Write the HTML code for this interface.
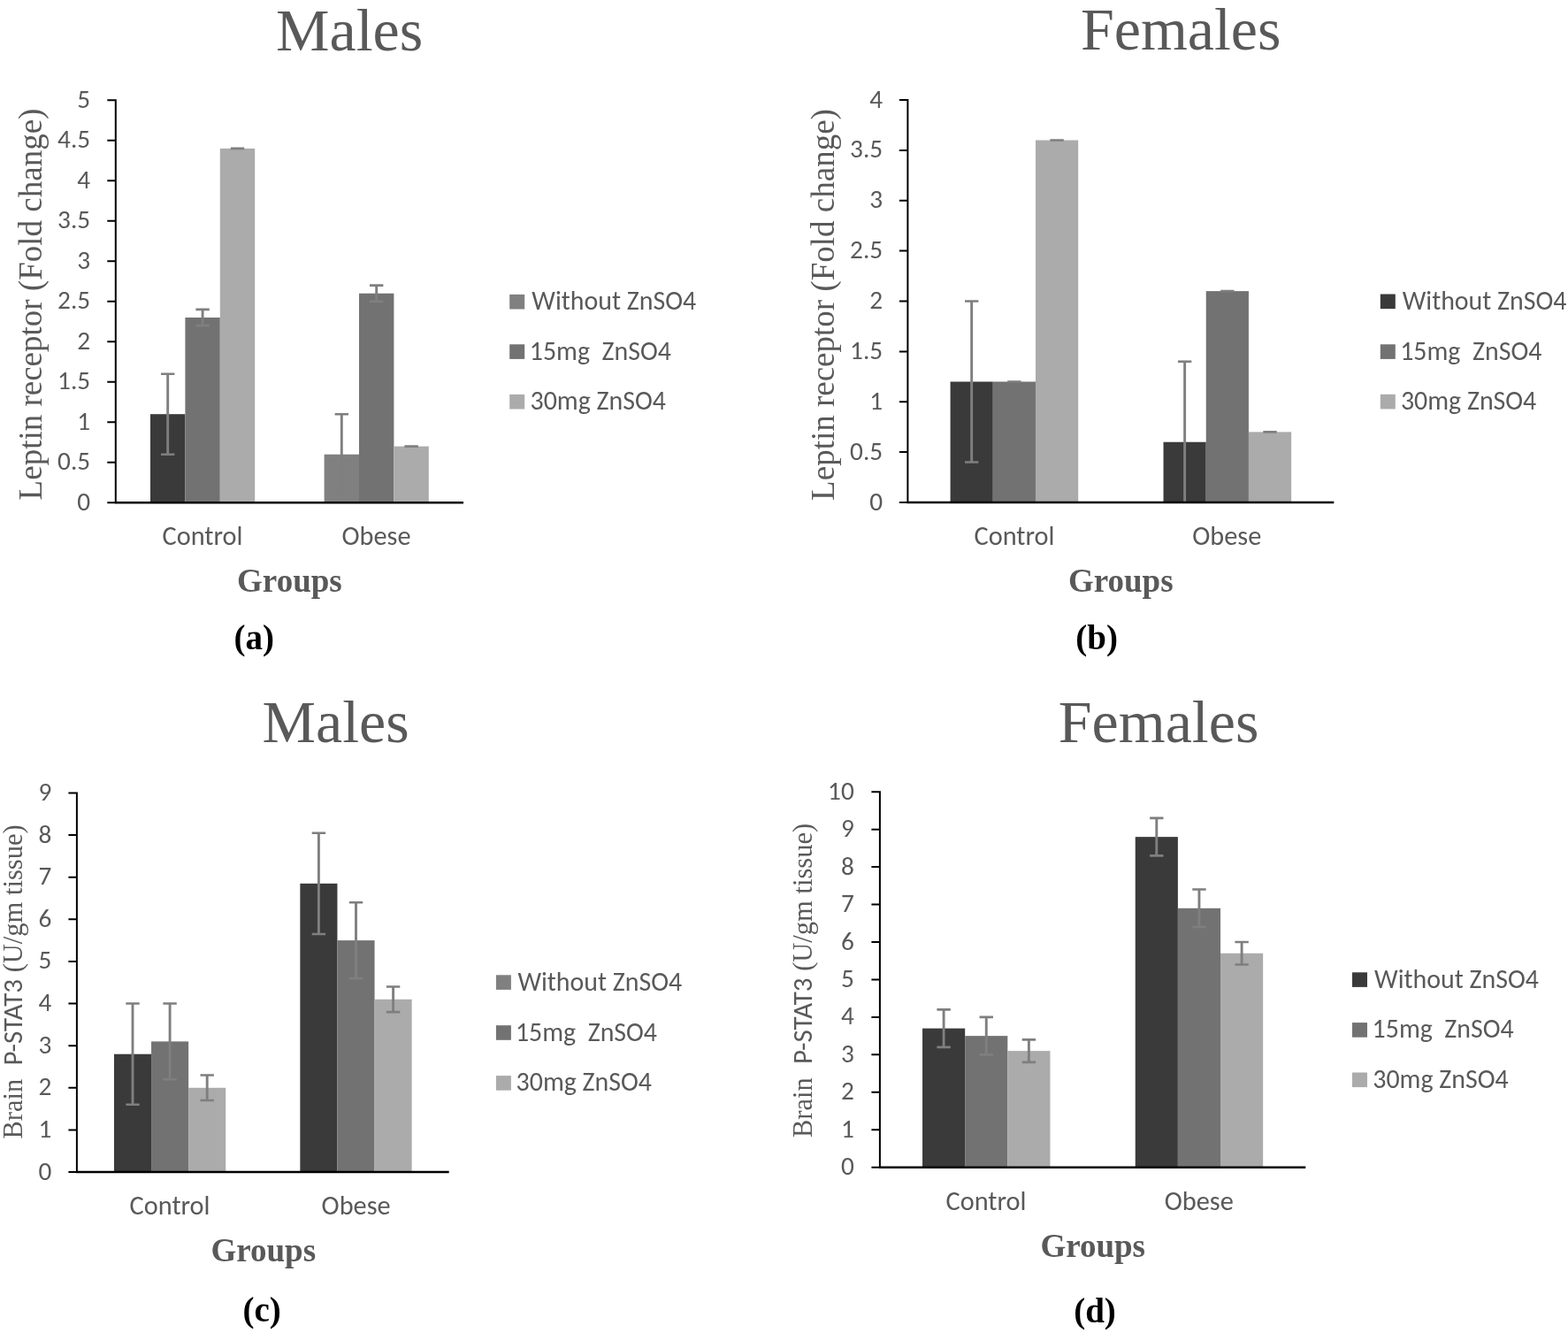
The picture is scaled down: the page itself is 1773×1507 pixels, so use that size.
<!DOCTYPE html>
<html><head><meta charset="utf-8"><title>Leptin receptor and P-STAT3 charts</title>
<style>
html,body{margin:0;padding:0;background:#fff;width:1773px;height:1507px;overflow:hidden}
svg{display:block}
.ti{font-family:"Liberation Serif", serif;font-size:68px;fill:#595959;text-anchor:middle}
.tk{font-family:Carlito, "Liberation Sans", sans-serif;font-size-adjust:0.4775;font-size:29.3px;fill:#595959;text-anchor:end}
.ct{font-family:Carlito, "Liberation Sans", sans-serif;font-size-adjust:0.4775;font-size:30.3px;fill:#595959;text-anchor:middle}
.lg{font-family:Carlito, "Liberation Sans", sans-serif;font-size-adjust:0.4775;font-size:29.9px;fill:#595959}
.gr{font-family:"Liberation Serif", serif;font-weight:bold;font-size:37px;fill:#595959;text-anchor:middle}
.pl{font-family:"Liberation Serif", serif;font-weight:bold;font-size:39px;fill:#000;text-anchor:middle}
.yl{font-family:"Liberation Serif", serif;font-size:37px;fill:#595959;text-anchor:middle}
.yl2{font-family:"Liberation Serif", serif;font-size:30.5px;fill:#595959;text-anchor:middle}
.ss{font-family:Carlito, "Liberation Sans", sans-serif;font-size-adjust:0.4775;font-size:31px}
.ax{fill:none;stroke:#000;stroke-width:2}
.ax2{fill:none;stroke:#000;stroke-width:2.6}
.eb{fill:none;stroke:#7f7f7f;stroke-width:2.6}
.ebv{fill:none;stroke:#7f7f7f;stroke-width:2.9}
</style></head><body>
<svg width="1773" height="1507" viewBox="0 0 1773 1507">
<rect width="1773" height="1507" fill="#fff"/>
<g id="pa"><text class="ti" x="395.1" y="56.7">Males</text>
<rect x="170" y="468.2" width="39.4" height="100.1" fill="#3a3a3a"/>
<rect x="209.4" y="359" width="39.4" height="209.3" fill="#727272"/>
<rect x="248.8" y="167.9" width="39.4" height="400.4" fill="#ababab"/>
<rect x="366.6" y="513.7" width="39.4" height="54.6" fill="#808080"/>
<rect x="406" y="331.7" width="39.4" height="236.6" fill="#727272"/>
<rect x="445.4" y="504.6" width="39.4" height="63.7" fill="#ababab"/>
<path class="ebv" d="M189.7 422.7V513.7"/><path class="eb" d="M182 422.7H197.4M182 513.7H197.4"/>
<path class="ebv" d="M229.1 349.9V368.1"/><path class="eb" d="M221.4 349.9H236.8M221.4 368.1H236.8"/>
<path class="ebv" d="M268.5 167.9V167.9"/><path class="eb" d="M260.8 167.9H276.2M260.8 167.9H276.2"/>
<path class="ebv" d="M386.3 468.2V559.2"/><path class="eb" d="M378.6 468.2H394M378.6 559.2H394"/>
<path class="ebv" d="M425.7 322.6V340.8"/><path class="eb" d="M418 322.6H433.4M418 340.8H433.4"/>
<path class="ebv" d="M465.1 504.6V504.6"/><path class="eb" d="M457.4 504.6H472.8M457.4 504.6H472.8"/>
<text class="tk" x="102.2" y="576.8" textLength="14.86" lengthAdjust="spacingAndGlyphs">0</text>
<text class="tk" x="102.2" y="531.3" textLength="37.09" lengthAdjust="spacingAndGlyphs">0.5</text>
<text class="tk" x="102.2" y="485.8" textLength="14.86" lengthAdjust="spacingAndGlyphs">1</text>
<text class="tk" x="102.2" y="440.3" textLength="37.09" lengthAdjust="spacingAndGlyphs">1.5</text>
<text class="tk" x="102.2" y="394.8" textLength="14.86" lengthAdjust="spacingAndGlyphs">2</text>
<text class="tk" x="102.2" y="349.3" textLength="37.09" lengthAdjust="spacingAndGlyphs">2.5</text>
<text class="tk" x="102.2" y="303.8" textLength="14.86" lengthAdjust="spacingAndGlyphs">3</text>
<text class="tk" x="102.2" y="258.3" textLength="37.09" lengthAdjust="spacingAndGlyphs">3.5</text>
<text class="tk" x="102.2" y="212.8" textLength="14.86" lengthAdjust="spacingAndGlyphs">4</text>
<text class="tk" x="102.2" y="167.3" textLength="37.09" lengthAdjust="spacingAndGlyphs">4.5</text>
<text class="tk" x="102.2" y="121.8" textLength="14.86" lengthAdjust="spacingAndGlyphs">5</text>
<path class="ax" d="M121.3 568.3H130.8M121.3 522.8H130.8M121.3 477.3H130.8M121.3 431.8H130.8M121.3 386.3H130.8M121.3 340.8H130.8M121.3 295.3H130.8M121.3 249.8H130.8M121.3 204.3H130.8M121.3 158.8H130.8M121.3 113.3H130.8M130.8 112.3V568.3"/>
<path class="ax2" d="M129.8 568.3H524"/>
<text class="ct" x="229" y="616.1" textLength="90.92" lengthAdjust="spacingAndGlyphs">Control</text>
<text class="ct" x="425.5" y="616.1" textLength="77.98" lengthAdjust="spacingAndGlyphs">Obese</text>
<text class="gr" x="327.4" y="669.3">Groups</text>
<text class="pl" x="287.3" y="733.5">(a)</text>
<rect x="576.2" y="332.9" width="17" height="16.6" fill="#808080"/>
<text class="lg" x="601.3" y="350.2" textLength="185.78" lengthAdjust="spacingAndGlyphs">Without ZnSO4</text>
<rect x="576.2" y="389.3" width="17" height="16.6" fill="#727272"/>
<text class="lg" x="598.8" y="406.6" textLength="160.14" lengthAdjust="spacingAndGlyphs">15mg  ZnSO4</text>
<rect x="576.2" y="445.9" width="17" height="16.6" fill="#ababab"/>
<text class="lg" x="599.5" y="463.2" textLength="153.39" lengthAdjust="spacingAndGlyphs">30mg ZnSO4</text>
<text class="yl" transform="translate(46.7 344) rotate(-90)">Leptin receptor (Fold change)</text></g>
<g id="pb"><text class="ti" x="1335.2" y="56.1">Females</text>
<rect x="1074.58" y="431.5" width="48.2" height="136.5" fill="#3a3a3a"/>
<rect x="1122.78" y="431.5" width="48.2" height="136.5" fill="#727272"/>
<rect x="1170.98" y="158.5" width="48.2" height="409.5" fill="#ababab"/>
<rect x="1315.53" y="499.75" width="48.2" height="68.25" fill="#3a3a3a"/>
<rect x="1363.73" y="329.12" width="48.2" height="238.88" fill="#727272"/>
<rect x="1411.93" y="488.38" width="48.2" height="79.62" fill="#ababab"/>
<path class="ebv" d="M1098.67 340.5V522.5"/><path class="eb" d="M1090.97 340.5H1106.38M1090.97 522.5H1106.38"/>
<path class="ebv" d="M1146.88 431.5V431.5"/><path class="eb" d="M1139.17 431.5H1154.58M1139.17 431.5H1154.58"/>
<path class="ebv" d="M1195.08 158.5V158.5"/><path class="eb" d="M1187.38 158.5H1202.78M1187.38 158.5H1202.78"/>
<path class="ebv" d="M1339.62 408.75V568"/><path class="eb" d="M1331.92 408.75H1347.33"/>
<path class="ebv" d="M1387.83 329.12V329.12"/><path class="eb" d="M1380.12 329.12H1395.53M1380.12 329.12H1395.53"/>
<path class="ebv" d="M1436.03 488.38V488.38"/><path class="eb" d="M1428.33 488.38H1443.73M1428.33 488.38H1443.73"/>
<text class="tk" x="998.2" y="576.5" textLength="14.86" lengthAdjust="spacingAndGlyphs">0</text>
<text class="tk" x="998.2" y="519.62" textLength="37.09" lengthAdjust="spacingAndGlyphs">0.5</text>
<text class="tk" x="998.2" y="462.75" textLength="14.86" lengthAdjust="spacingAndGlyphs">1</text>
<text class="tk" x="998.2" y="405.88" textLength="37.09" lengthAdjust="spacingAndGlyphs">1.5</text>
<text class="tk" x="998.2" y="349" textLength="14.86" lengthAdjust="spacingAndGlyphs">2</text>
<text class="tk" x="998.2" y="292.12" textLength="37.09" lengthAdjust="spacingAndGlyphs">2.5</text>
<text class="tk" x="998.2" y="235.25" textLength="14.86" lengthAdjust="spacingAndGlyphs">3</text>
<text class="tk" x="998.2" y="178.38" textLength="37.09" lengthAdjust="spacingAndGlyphs">3.5</text>
<text class="tk" x="998.2" y="121.5" textLength="14.86" lengthAdjust="spacingAndGlyphs">4</text>
<path class="ax" d="M1016.9 568H1026.4M1016.9 511.12H1026.4M1016.9 454.25H1026.4M1016.9 397.38H1026.4M1016.9 340.5H1026.4M1016.9 283.62H1026.4M1016.9 226.75H1026.4M1016.9 169.88H1026.4M1016.9 113H1026.4M1026.4 112V568"/>
<path class="ax2" d="M1025.4 568H1508.3"/>
<text class="ct" x="1147" y="616" textLength="90.92" lengthAdjust="spacingAndGlyphs">Control</text>
<text class="ct" x="1387.3" y="616" textLength="77.98" lengthAdjust="spacingAndGlyphs">Obese</text>
<text class="gr" x="1267.3" y="668.9">Groups</text>
<text class="pl" x="1240.2" y="733.5">(b)</text>
<rect x="1560.8" y="332.5" width="17" height="16.6" fill="#3a3a3a"/>
<text class="lg" x="1585.7" y="349.8" textLength="185.78" lengthAdjust="spacingAndGlyphs">Without ZnSO4</text>
<rect x="1560.8" y="389.3" width="17" height="16.6" fill="#727272"/>
<text class="lg" x="1583.2" y="406.6" textLength="160.14" lengthAdjust="spacingAndGlyphs">15mg  ZnSO4</text>
<rect x="1560.8" y="445.8" width="17" height="16.6" fill="#ababab"/>
<text class="lg" x="1583.9" y="463.1" textLength="153.39" lengthAdjust="spacingAndGlyphs">30mg ZnSO4</text>
<text class="yl" transform="translate(942.5 344.5) rotate(-90)">Leptin receptor (Fold change)</text></g>
<g id="pc"><text class="ti" x="379.6" y="838.6">Males</text>
<rect x="128.95" y="1191.69" width="42.1" height="133.31" fill="#3a3a3a"/>
<rect x="171.05" y="1177.41" width="42.1" height="147.59" fill="#727272"/>
<rect x="213.15" y="1229.78" width="42.1" height="95.22" fill="#ababab"/>
<rect x="339.35" y="998.86" width="42.1" height="326.14" fill="#3a3a3a"/>
<rect x="381.45" y="1063.14" width="42.1" height="261.86" fill="#727272"/>
<rect x="423.55" y="1129.79" width="42.1" height="195.21" fill="#ababab"/>
<path class="ebv" d="M150 1134.56V1248.82"/><path class="eb" d="M142.3 1134.56H157.7M142.3 1248.82H157.7"/>
<path class="ebv" d="M192.1 1134.56V1220.26"/><path class="eb" d="M184.4 1134.56H199.8M184.4 1220.26H199.8"/>
<path class="ebv" d="M234.2 1215.49V1244.06"/><path class="eb" d="M226.5 1215.49H241.9M226.5 1244.06H241.9"/>
<path class="ebv" d="M360.4 941.73V1056"/><path class="eb" d="M352.7 941.73H368.1M352.7 1056H368.1"/>
<path class="ebv" d="M402.5 1020.29V1105.99"/><path class="eb" d="M394.8 1020.29H410.2M394.8 1105.99H410.2"/>
<path class="ebv" d="M444.6 1115.51V1144.08"/><path class="eb" d="M436.9 1115.51H452.3M436.9 1144.08H452.3"/>
<text class="tk" x="58.4" y="1333.5" textLength="14.86" lengthAdjust="spacingAndGlyphs">0</text>
<text class="tk" x="58.4" y="1285.89" textLength="14.86" lengthAdjust="spacingAndGlyphs">1</text>
<text class="tk" x="58.4" y="1238.28" textLength="14.86" lengthAdjust="spacingAndGlyphs">2</text>
<text class="tk" x="58.4" y="1190.67" textLength="14.86" lengthAdjust="spacingAndGlyphs">3</text>
<text class="tk" x="58.4" y="1143.06" textLength="14.86" lengthAdjust="spacingAndGlyphs">4</text>
<text class="tk" x="58.4" y="1095.44" textLength="14.86" lengthAdjust="spacingAndGlyphs">5</text>
<text class="tk" x="58.4" y="1047.83" textLength="14.86" lengthAdjust="spacingAndGlyphs">6</text>
<text class="tk" x="58.4" y="1000.22" textLength="14.86" lengthAdjust="spacingAndGlyphs">7</text>
<text class="tk" x="58.4" y="952.61" textLength="14.86" lengthAdjust="spacingAndGlyphs">8</text>
<text class="tk" x="58.4" y="905" textLength="14.86" lengthAdjust="spacingAndGlyphs">9</text>
<path class="ax" d="M77.4 1325H86.9M77.4 1277.39H86.9M77.4 1229.78H86.9M77.4 1182.17H86.9M77.4 1134.56H86.9M77.4 1086.94H86.9M77.4 1039.33H86.9M77.4 991.72H86.9M77.4 944.11H86.9M77.4 896.5H86.9M86.9 895.5V1325"/>
<path class="ax2" d="M85.9 1325H507.7"/>
<text class="ct" x="192.1" y="1373.1" textLength="90.92" lengthAdjust="spacingAndGlyphs">Control</text>
<text class="ct" x="402.6" y="1373.1" textLength="77.98" lengthAdjust="spacingAndGlyphs">Obese</text>
<text class="gr" x="297.8" y="1426">Groups</text>
<text class="pl" x="296.1" y="1494">(c)</text>
<rect x="560.9" y="1102.3" width="17" height="16.6" fill="#808080"/>
<text class="lg" x="585.4" y="1119.6" textLength="185.78" lengthAdjust="spacingAndGlyphs">Without ZnSO4</text>
<rect x="560.9" y="1159.2" width="17" height="16.6" fill="#727272"/>
<text class="lg" x="582.9" y="1176.5" textLength="160.14" lengthAdjust="spacingAndGlyphs">15mg  ZnSO4</text>
<rect x="560.9" y="1216.1" width="17" height="16.6" fill="#ababab"/>
<text class="lg" x="583.6" y="1233.4" textLength="153.39" lengthAdjust="spacingAndGlyphs">30mg ZnSO4</text>
<text class="yl2" transform="translate(25.3 1110) rotate(-90)">Brain  <tspan class="ss" textLength="97.64" lengthAdjust="spacingAndGlyphs">P-STAT3</tspan> (U/gm tissue)</text></g>
<g id="pd"><text class="ti" x="1310.1" y="838.6">Females</text>
<rect x="1043.04" y="1162.63" width="48.14" height="157.07" fill="#3a3a3a"/>
<rect x="1091.18" y="1171.12" width="48.14" height="148.58" fill="#727272"/>
<rect x="1139.32" y="1188.11" width="48.14" height="131.6" fill="#ababab"/>
<rect x="1283.74" y="946.14" width="48.14" height="373.56" fill="#3a3a3a"/>
<rect x="1331.88" y="1026.8" width="48.14" height="292.9" fill="#727272"/>
<rect x="1380.02" y="1077.74" width="48.14" height="241.96" fill="#ababab"/>
<path class="ebv" d="M1067.11 1141.41V1183.86"/><path class="eb" d="M1059.41 1141.41H1074.81M1059.41 1183.86H1074.81"/>
<path class="ebv" d="M1115.25 1149.9V1192.35"/><path class="eb" d="M1107.55 1149.9H1122.95M1107.55 1192.35H1122.95"/>
<path class="ebv" d="M1163.39 1175.37V1200.84"/><path class="eb" d="M1155.69 1175.37H1171.09M1155.69 1200.84H1171.09"/>
<path class="ebv" d="M1307.81 924.91V967.37"/><path class="eb" d="M1300.11 924.91H1315.51M1300.11 967.37H1315.51"/>
<path class="ebv" d="M1355.95 1005.57V1048.02"/><path class="eb" d="M1348.25 1005.57H1363.65M1348.25 1048.02H1363.65"/>
<path class="ebv" d="M1404.09 1065V1090.47"/><path class="eb" d="M1396.39 1065H1411.79M1396.39 1090.47H1411.79"/>
<text class="tk" x="965.8" y="1328.2" textLength="14.86" lengthAdjust="spacingAndGlyphs">0</text>
<text class="tk" x="965.8" y="1285.75" textLength="14.86" lengthAdjust="spacingAndGlyphs">1</text>
<text class="tk" x="965.8" y="1243.3" textLength="14.86" lengthAdjust="spacingAndGlyphs">2</text>
<text class="tk" x="965.8" y="1200.85" textLength="14.86" lengthAdjust="spacingAndGlyphs">3</text>
<text class="tk" x="965.8" y="1158.4" textLength="14.86" lengthAdjust="spacingAndGlyphs">4</text>
<text class="tk" x="965.8" y="1115.95" textLength="14.86" lengthAdjust="spacingAndGlyphs">5</text>
<text class="tk" x="965.8" y="1073.5" textLength="14.86" lengthAdjust="spacingAndGlyphs">6</text>
<text class="tk" x="965.8" y="1031.05" textLength="14.86" lengthAdjust="spacingAndGlyphs">7</text>
<text class="tk" x="965.8" y="988.6" textLength="14.86" lengthAdjust="spacingAndGlyphs">8</text>
<text class="tk" x="965.8" y="946.15" textLength="14.86" lengthAdjust="spacingAndGlyphs">9</text>
<text class="tk" x="965.8" y="903.7" textLength="29.7" lengthAdjust="spacingAndGlyphs">10</text>
<path class="ax" d="M985.4 1319.7H994.9M985.4 1277.25H994.9M985.4 1234.8H994.9M985.4 1192.35H994.9M985.4 1149.9H994.9M985.4 1107.45H994.9M985.4 1065H994.9M985.4 1022.55H994.9M985.4 980.1H994.9M985.4 937.65H994.9M985.4 895.2H994.9M994.9 894.2V1319.7"/>
<path class="ax2" d="M993.9 1319.7H1476.3"/>
<text class="ct" x="1115" y="1368.2" textLength="90.92" lengthAdjust="spacingAndGlyphs">Control</text>
<text class="ct" x="1355.8" y="1368.2" textLength="77.98" lengthAdjust="spacingAndGlyphs">Obese</text>
<text class="gr" x="1235.7" y="1420.8">Groups</text>
<text class="pl" x="1238" y="1495">(d)</text>
<rect x="1529" y="1099.3" width="17" height="16.6" fill="#3a3a3a"/>
<text class="lg" x="1554.1" y="1116.6" textLength="185.78" lengthAdjust="spacingAndGlyphs">Without ZnSO4</text>
<rect x="1529" y="1156.1" width="17" height="16.6" fill="#727272"/>
<text class="lg" x="1551.6" y="1173.4" textLength="160.14" lengthAdjust="spacingAndGlyphs">15mg  ZnSO4</text>
<rect x="1529" y="1212.5" width="17" height="16.6" fill="#ababab"/>
<text class="lg" x="1552.3" y="1229.8" textLength="153.39" lengthAdjust="spacingAndGlyphs">30mg ZnSO4</text>
<text class="yl2" transform="translate(917.8 1108.5) rotate(-90)">Brain  <tspan class="ss" textLength="97.64" lengthAdjust="spacingAndGlyphs">P-STAT3</tspan> (U/gm tissue)</text></g>
</svg>
</body></html>
